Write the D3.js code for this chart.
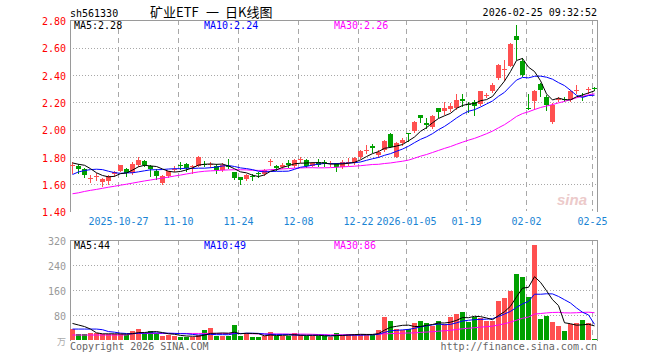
<!DOCTYPE html>
<html>
<head>
<meta charset="utf-8">
<script src="https://cdn.jsdelivr.net/npm/d3@7/dist/d3.min.js"></script>
<style>
	body { margin: 0; background: #fff; }
	svg { display: block; }
	text { font-family: "DejaVu Sans Mono", "Liberation Mono", monospace; font-size: 10px; }
</style>
</head>
<body>
<svg width="660" height="360"></svg>
<script>
// Trading days shown in the chart (one candle each)
const dates = [
	"2025-10-15", "2025-10-16", "2025-10-17", "2025-10-20", "2025-10-21", "2025-10-22", "2025-10-23", "2025-10-24",
	"2025-10-27", "2025-10-28", "2025-10-29", "2025-10-30", "2025-10-31",
	"2025-11-03", "2025-11-04", "2025-11-05", "2025-11-06", "2025-11-07", "2025-11-10", "2025-11-11", "2025-11-12",
	"2025-11-13", "2025-11-14", "2025-11-17", "2025-11-18", "2025-11-19", "2025-11-20", "2025-11-21", "2025-11-24",
	"2025-11-25", "2025-11-26", "2025-11-27", "2025-11-28",
	"2025-12-01", "2025-12-02", "2025-12-03", "2025-12-04", "2025-12-05", "2025-12-08", "2025-12-09", "2025-12-10",
	"2025-12-11", "2025-12-12", "2025-12-15", "2025-12-16", "2025-12-17", "2025-12-18", "2025-12-19", "2025-12-22",
	"2025-12-23", "2025-12-24", "2025-12-25", "2025-12-26", "2025-12-29", "2025-12-30", "2025-12-31",
	"2026-01-05", "2026-01-06", "2026-01-07", "2026-01-08", "2026-01-09", "2026-01-12", "2026-01-13", "2026-01-14",
	"2026-01-15", "2026-01-16", "2026-01-19", "2026-01-20", "2026-01-21", "2026-01-22", "2026-01-23", "2026-01-26",
	"2026-01-27", "2026-01-28", "2026-01-29", "2026-01-30",
	"2026-02-02", "2026-02-03", "2026-02-04", "2026-02-05", "2026-02-06", "2026-02-09", "2026-02-10", "2026-02-11",
	"2026-02-12", "2026-02-13", "2026-02-24", "2026-02-25"
];

const opens = [
	1.738, 1.732, 1.710, 1.640, 1.655, 1.615, 1.625, 1.672, 1.697, 1.715,
	1.685, 1.740, 1.770, 1.732, 1.697, 1.610, 1.663, 1.712, 1.741, 1.746,
	1.728, 1.737, 1.748, 1.745, 1.737, 1.705, 1.731, 1.688, 1.650, 1.640,
	1.658, 1.682, 1.673, 1.766, 1.737, 1.724, 1.754, 1.730, 1.785, 1.778,
	1.737, 1.766, 1.763, 1.751, 1.748, 1.729, 1.763, 1.760, 1.800, 1.848,
	1.880, 1.814, 1.850, 1.968, 1.800, 1.900, 1.975, 1.990, 2.107, 2.050,
	2.017, 2.156, 2.136, 2.149, 2.156, 2.226, 2.190, 2.205, 2.187, 2.254,
	2.285, 2.378, 2.440, 2.468, 2.683, 2.505, 2.160, 2.207, 2.334, 2.236,
	2.056, 2.220, 2.228, 2.219, 2.290, 2.246, 2.295, 2.307
];
const highs = [
	1.760, 1.750, 1.720, 1.665, 1.680, 1.646, 1.670, 1.700, 1.744, 1.720,
	1.760, 1.800, 1.776, 1.739, 1.710, 1.670, 1.700, 1.732, 1.763, 1.756,
	1.744, 1.810, 1.770, 1.766, 1.746, 1.754, 1.785, 1.693, 1.650, 1.675,
	1.673, 1.688, 1.712, 1.785, 1.741, 1.754, 1.778, 1.785, 1.800, 1.785,
	1.760, 1.785, 1.780, 1.770, 1.753, 1.778, 1.790, 1.800, 1.850, 1.888,
	1.893, 1.850, 1.924, 1.973, 1.912, 1.936, 1.975, 2.063, 2.107, 2.088,
	2.107, 2.156, 2.200, 2.193, 2.260, 2.260, 2.200, 2.220, 2.285, 2.268,
	2.340, 2.480, 2.510, 2.634, 2.764, 2.524, 2.260, 2.290, 2.340, 2.256,
	2.195, 2.236, 2.236, 2.290, 2.330, 2.268, 2.310, 2.310
];
const lows = [
	1.680, 1.685, 1.655, 1.617, 1.630, 1.590, 1.600, 1.660, 1.695, 1.660,
	1.678, 1.732, 1.730, 1.660, 1.640, 1.598, 1.653, 1.695, 1.710, 1.695,
	1.685, 1.732, 1.730, 1.724, 1.680, 1.698, 1.717, 1.636, 1.600, 1.632,
	1.632, 1.655, 1.668, 1.740, 1.705, 1.717, 1.724, 1.724, 1.766, 1.724,
	1.730, 1.730, 1.737, 1.730, 1.697, 1.720, 1.740, 1.745, 1.795, 1.826,
	1.838, 1.800, 1.846, 1.870, 1.797, 1.887, 1.920, 1.985, 2.058, 2.010,
	2.010, 2.095, 2.112, 2.136, 2.150, 2.170, 2.130, 2.110, 2.177, 2.240,
	2.275, 2.373, 2.365, 2.463, 2.520, 2.390, 2.153, 2.153, 2.250, 2.146,
	2.050, 2.207, 2.207, 2.207, 2.270, 2.220, 2.270, 2.290
];
const closes = [
	1.740, 1.710, 1.670, 1.642, 1.657, 1.641, 1.660, 1.690, 1.739, 1.680,
	1.750, 1.780, 1.744, 1.715, 1.660, 1.659, 1.697, 1.714, 1.737, 1.720,
	1.730, 1.800, 1.745, 1.748, 1.705, 1.741, 1.729, 1.644, 1.634, 1.668,
	1.655, 1.680, 1.705, 1.768, 1.722, 1.741, 1.741, 1.778, 1.787, 1.730,
	1.754, 1.741, 1.761, 1.753, 1.729, 1.760, 1.765, 1.795, 1.843, 1.850,
	1.868, 1.839, 1.917, 1.875, 1.900, 1.924, 1.973, 2.058, 2.083, 2.034,
	2.102, 2.132, 2.156, 2.173, 2.217, 2.207, 2.187, 2.170, 2.280, 2.256,
	2.324, 2.475, 2.445, 2.630, 2.660, 2.400, 2.155, 2.285, 2.292, 2.178,
	2.178, 2.224, 2.226, 2.285, 2.292, 2.244, 2.297, 2.305
];
// Volume in 万 (ten thousands)
const volumes = [
	35, 19, 19, 21, 21, 19, 19, 19, 19, 16,
	29, 35, 21, 29, 21, 13, 16, 13, 11, 11,
	9, 16, 32, 38, 13, 13, 13, 48, 13, 21,
	10, 10, 13, 26, 13, 13, 13, 21, 16, 13,
	13, 13, 13, 11, 21, 16, 19, 19, 16, 19,
	16, 32, 75, 61, 35, 32, 35, 53, 61, 54,
	45, 61, 51, 74, 83, 90, 59, 73, 69, 62,
	62, 126, 134, 157, 211, 202, 139, 304, 67, 77,
	58, 45, 29, 51, 54, 64, 54, 3
];

// Moving average values at the left edge, where the window reaches before the first candle
const priceMa5Head = [1.756, 1.746, 1.739, 1.714];
const priceMa10Head = [1.671, 1.690, 1.700, 1.707, 1.710, 1.707, 1.695, 1.685, 1.680];
const priceMa30Head = [
	1.530, 1.537, 1.547, 1.555, 1.562, 1.570, 1.578, 1.585, 1.593, 1.600,
	1.608, 1.616, 1.624, 1.631, 1.638, 1.645, 1.652, 1.660, 1.667, 1.675,
	1.683, 1.690, 1.695, 1.698, 1.700, 1.703, 1.705, 1.706, 1.706
];
const volMa5Head = [53, 48, 43, 35];
const volMa10Head = [35, 35, 35, 35, 35, 33, 27, 25, 22];
const volMa30Head = [
	16, 16, 16, 16, 16, 16, 16, 16, 16, 16,
	21, 21, 21, 21, 21, 21, 21, 21, 21, 21,
	21, 21, 21, 21, 21, 21, 21, 21, 21
];

const priceTicks = [1.40, 1.60, 1.80, 2.00, 2.20, 2.40, 2.60, 2.80];
const volumeTicks = [80, 160, 240, 320];
const dateTicks = ["2025-10-27", "2025-11-10", "2025-11-24", "2025-12-08", "2025-12-22",
	"2026-01-05", "2026-01-19", "2026-02-02", "2026-02-25"];
const dateTickLabels = ["2025-10-27", "11-10", "11-24", "12-08", "12-22",
	"2026-01-05", "01-19", "02-02", "02-25"];

const titleParts = ["矿业ETF", "一", "日K线图"];
const priceMaLabels = ["MA5:2.28", "MA10:2.24", "MA30:2.26"];
const volumeMaLabels = ["MA5:44", "MA10:49", "MA30:86"];

document.addEventListener("DOMContentLoaded", function() {
	renderChart();
});

/**
 * @method movingAverage
 * @param {Array} values the series
 * @param {Number} n window length
 * @param {Array} head the values read for the first n-1 candles
 */
function movingAverage(values, n, head) {
	return values.map((v, i) => i < n - 1 ? head[i] : d3.mean(values.slice(i - n + 1, i + 1)));
}

function renderChart() {
	const svg = d3.select("svg");

	const left = 70, right = 598;
	const priceTop = 20, priceBottom = 211;
	const volTop = 240, volBottom = 340;

	const RED = "#ff5050", GREEN = "#00a000";
	const GRID = "#a8a8a8", FRAME = "#9a9a9a";

	const xScale = d3.scaleBand()
					 .domain(dates)
					 .range([left, right]);		// 6px per trading day

	const yPrice = d3.scaleLinear()
					 .domain([1.40, 2.80])
					 .range([priceBottom + 0.5, priceTop + 0.5]);

	const yVol = d3.scaleLinear()
				   .domain([0, 320])
				   .range([volBottom, volTop]);

	const candles = dates.map((d, i) => ({
		date: d, open: opens[i], high: highs[i], low: lows[i], close: closes[i], volume: volumes[i]
	}));

	// ---- grid lines (drawn first, under everything) ----
	const grid = svg.append("g").attr("shape-rendering", "crispEdges");

	priceTicks.filter(t => t > 1.40 && t < 2.80).forEach(t => {
		const y = Math.round(yPrice(t)) + 0.5;
		grid.append("line")
			.attr("x1", left).attr("x2", right - 1)
			.attr("y1", y).attr("y2", y)
			.attr("stroke", GRID).attr("stroke-dasharray", "1,2");
	});
	volumeTicks.filter(t => t < 320).forEach(t => {
		const y = Math.round(yVol(t)) + 0.5;
		grid.append("line")
			.attr("x1", left).attr("x2", right - 1)
			.attr("y1", y).attr("y2", y)
			.attr("stroke", GRID).attr("stroke-dasharray", "1,2");
	});
	dateTicks.forEach(d => {
		const x = xScale(d) + 0.5;
		[[priceTop, priceBottom], [volTop, volBottom]].forEach(([a, b]) => {
			grid.append("line")
				.attr("x1", x).attr("x2", x)
				.attr("y1", a).attr("y2", b)
				.attr("stroke", GRID).attr("stroke-dasharray", "5,4");
		});
	});

	// ---- panel frames ----
	const frame = svg.append("g").attr("shape-rendering", "crispEdges")
					 .attr("stroke", FRAME).attr("fill", "none");
	frame.append("path").attr("d", `M${left + 0.5},${priceBottom + 0.5}V${priceTop + 0.5}H${right - 0.5}V${priceBottom + 0.5}`);
	frame.append("path").attr("d", `M${left + 0.5},${volBottom + 0.5}V${volTop + 0.5}H${right - 0.5}V${volBottom + 0.5}`);

	// ---- watermark ----
	svg.append("text")
	   .attr("x", 557).attr("y", 205)
	   .style("font-family", "'Liberation Sans', sans-serif")
	   .style("font-size", "15px").style("font-weight", "bold").style("font-style", "italic")
	   .attr("fill", "#eccaca")
	   .text("sina");

	// ---- candles ----
	const bw = xScale.bandwidth() - 1;
	const candle = svg.append("g").attr("shape-rendering", "crispEdges")
					  .selectAll("g")
					  .data(candles)
					  .enter()
					  .append("g")
					  .attr("fill", d => d.close >= d.open ? RED : GREEN)
					  .attr("stroke", d => d.close >= d.open ? RED : GREEN);

	candle.append("line")
		  .attr("x1", d => xScale(d.date) + 2.5)
		  .attr("x2", d => xScale(d.date) + 2.5)
		  .attr("y1", d => Math.round(yPrice(d.high)))
		  .attr("y2", d => Math.round(yPrice(d.low)) + 1);

	candle.append("rect")
		  .attr("stroke", "none")
		  .attr("x", d => xScale(d.date))
		  .attr("width", bw)
		  .attr("y", d => Math.round(yPrice(Math.max(d.open, d.close))))
		  .attr("height", d => Math.max(1, Math.round(yPrice(Math.min(d.open, d.close))) - Math.round(yPrice(Math.max(d.open, d.close)))));

	// ---- volume bars ----
	svg.append("g").attr("shape-rendering", "crispEdges")
	   .selectAll("rect")
	   .data(candles)
	   .enter()
	   .append("rect")
	   .attr("fill", d => d.close >= d.open ? RED : GREEN)
	   .attr("x", d => xScale(d.date))
	   .attr("width", bw)
	   .attr("y", d => Math.round(yVol(d.volume)))
	   .attr("height", d => volBottom - Math.round(yVol(d.volume)));

	// ---- moving average lines ----
	const maColors = ["#000000", "#0000ff", "#ff00ff"];
	const priceMas = [
		movingAverage(closes, 5, priceMa5Head),
		movingAverage(closes, 10, priceMa10Head),
		movingAverage(closes, 30, priceMa30Head)
	];
	const volMas = [
		movingAverage(volumes, 5, volMa5Head),
		movingAverage(volumes, 10, volMa10Head),
		movingAverage(volumes, 30, volMa30Head)
	];

	const priceLine = d3.line()
						.x((d, i) => xScale(dates[i]) + 2.5)
						.y(d => yPrice(d));
	const volLine = d3.line()
					  .x((d, i) => xScale(dates[i]) + 2.5)
					  .y(d => yVol(d));

	// MA30 first so the short averages sit on top of it
	[2, 1, 0].forEach(k => {
		svg.append("path").attr("d", priceLine(priceMas[k]))
		   .attr("fill", "none").attr("stroke", maColors[k]).attr("stroke-width", 1);
		svg.append("path").attr("d", volLine(volMas[k]))
		   .attr("fill", "none").attr("stroke", maColors[k]).attr("stroke-width", 1);
	});

	renderAxes(svg, xScale, yPrice, yVol, { left, right, priceBottom });
	renderLabels(svg, maColors, { left, right });
}

/**
 * @method renderAxes draws the price, volume and date labels with d3 axes
 */
function renderAxes(svg, xScale, yPrice, yVol, dims) {
	const { left, priceBottom } = dims;

	const priceAxis = d3.axisLeft(yPrice)
						.tickValues(priceTicks)
						.tickSize(0)
						.tickPadding(4)
						.tickFormat(d3.format(".2f"));
	const pg = svg.append("g")
				  .attr("transform", `translate(${left}, 1)`)
				  .call(priceAxis);
	pg.select(".domain").remove();
	pg.selectAll("text")
	  .attr("fill", "#ff0000")
	  .style("font-family", "'DejaVu Sans Mono', monospace")
	  .style("font-size", "10px");

	const volAxis = d3.axisLeft(yVol)
					  .tickValues(volumeTicks)
					  .tickSize(0)
					  .tickPadding(4);
	const vg = svg.append("g")
				  .attr("transform", `translate(${left}, 1)`)
				  .call(volAxis);
	vg.select(".domain").remove();
	vg.selectAll("text")
	  .attr("fill", "#999999")
	  .style("font-family", "'DejaVu Sans Mono', monospace")
	  .style("font-size", "10px");

	// unit of the volume panel
	svg.append("text")
	   .attr("x", 66).attr("y", 345)
	   .attr("text-anchor", "end")
	   .attr("fill", "#aaaaaa")
	   .style("font-family", "'Noto Sans CJK SC', sans-serif")
	   .style("font-size", "9px")
	   .text("万");

	// date labels sit centred on the dashed lines
	svg.append("g")
	   .selectAll("text")
	   .data(dateTicks)
	   .enter()
	   .append("text")
	   .attr("x", d => xScale(d) + 0.5)
	   .attr("y", priceBottom + 14)
	   .attr("text-anchor", "middle")
	   .attr("fill", "#1a84d4")
	   .text((d, i) => dateTickLabels[i]);
}

/**
 * @method renderLabels header, MA values and footer texts
 */
function renderLabels(svg, maColors, dims) {
	const { left, right } = dims;

	svg.append("text").attr("x", left).attr("y", 17).attr("fill", "#000").text("sh561330");

	// the title is spread out in three pieces like the original
	const titleX = [150, 206, 225];
	titleParts.forEach((t, i) => {
		svg.append("text")
		   .attr("x", titleX[i]).attr("y", 17)
		   .attr("fill", "#000")
		   .style("font-family", "'Noto Sans CJK SC', sans-serif")
		   .style("font-size", "13px")
		   .text(t);
	});

	svg.append("text")
	   .attr("x", right - 1).attr("y", 16)
	   .attr("text-anchor", "end")
	   .attr("fill", "#000")
	   .text("2026-02-25 09:32:52");

	const labelX = [left + 4, left + 134, left + 264];
	priceMaLabels.forEach((t, i) => {
		svg.append("text").attr("x", labelX[i]).attr("y", 29).attr("fill", maColors[i]).text(t);
	});
	volumeMaLabels.forEach((t, i) => {
		svg.append("text").attr("x", labelX[i]).attr("y", 249).attr("fill", maColors[i]).text(t);
	});

	svg.append("text").attr("x", left).attr("y", 350).attr("fill", "#666").text("Copyright 2026 SINA.COM");
	svg.append("text")
	   .attr("x", right - 1).attr("y", 350)
	   .attr("text-anchor", "end")
	   .attr("fill", "#666")
	   .text("http://finance.sina.com.cn");
}
</script>
</body>
</html>
